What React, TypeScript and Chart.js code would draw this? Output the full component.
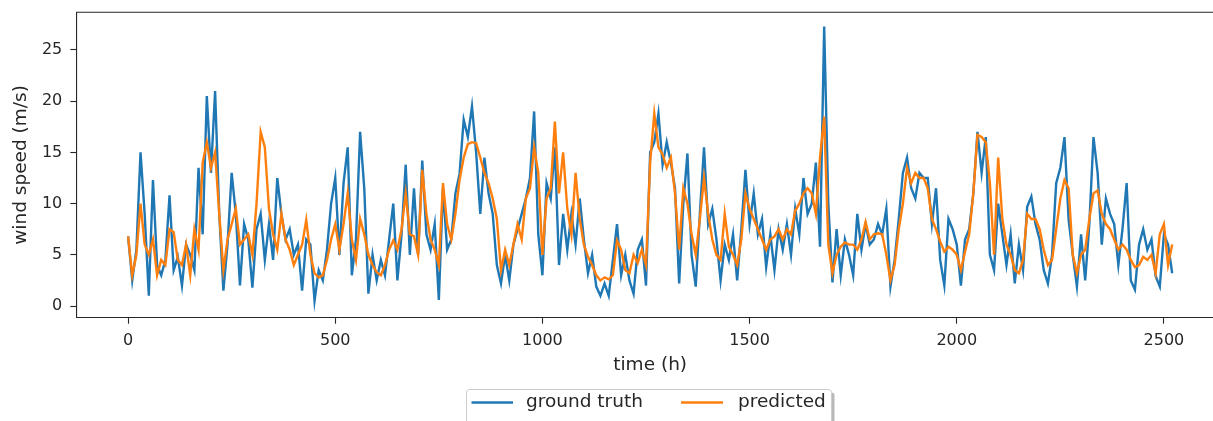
import React, { useEffect, useRef } from "react";
import { Chart, registerables } from "chart.js";

Chart.register(...registerables);

// time axis (hours), sampled every 10 h
const HOUR_STEP = 10;
const N_POINTS = 253;
const HOURS: number[] = Array.from({ length: N_POINTS }, (_, i) => i * HOUR_STEP);

const X_TICKS = [0, 500, 1000, 1500, 2000, 2500];
const Y_TICKS = [0, 5, 10, 15, 20, 25];

// ground truth wind speed (m/s)
const GROUND_TRUTH: number[] = [
  6.8, 2.5, 5.5, 15.0, 9.0, 1.0, 12.3, 4.0, 3.0, 4.5,
  10.8, 3.5, 4.8, 2.0, 6.0, 5.0, 3.5, 13.5, 7.0, 20.5,
  13.0, 21.0, 9.0, 1.5, 6.0, 13.0, 9.0, 2.0, 8.0, 6.5,
  1.8, 7.5, 9.0, 4.5, 8.0, 4.5, 12.5, 9.0, 6.5, 7.5,
  5.0, 6.0, 1.5, 6.5, 6.0, 0.5, 3.5, 2.5, 5.5, 10.0,
  12.5, 5.0, 12.0, 15.5, 3.0, 6.5, 17.0, 11.5, 1.2, 5.0,
  2.5, 4.5, 3.0, 6.5, 10.0, 2.5, 7.0, 13.8, 5.0, 11.5,
  5.0, 14.2, 7.0, 5.5, 8.0, 0.6, 11.5, 5.5, 6.5, 11.0,
  12.9, 18.2, 16.5, 19.5, 15.0, 9.0, 14.5, 11.0, 9.0, 4.0,
  2.2, 5.0, 2.5, 6.0, 7.5, 9.0, 10.5, 12.5, 19.0, 7.0,
  3.0, 12.0, 10.5, 15.5, 4.0, 9.0, 5.5, 9.0, 6.0, 10.5,
  6.5, 3.2, 5.0, 1.9, 1.0, 2.2, 1.0, 4.5, 8.0, 3.0,
  5.0, 2.5, 1.2, 5.5, 6.5, 2.0, 15.0, 16.0, 18.8, 13.8,
  16.0, 14.0, 11.5, 2.2, 10.0, 14.9, 5.0, 1.9, 9.0, 15.5,
  8.0, 9.5, 6.5, 2.5, 6.0, 4.5, 7.0, 2.5, 7.5, 13.3,
  8.0, 11.0, 7.0, 8.5, 3.8, 7.0, 3.5, 7.5, 5.5, 8.0,
  5.0, 9.5, 7.0, 12.5, 9.0, 10.0, 14.0, 5.8, 27.3, 10.0,
  2.3, 7.5, 3.0, 6.5, 5.0, 3.0, 9.0, 5.5, 8.0, 6.0,
  6.5, 8.0, 7.0, 9.5, 1.9, 4.5, 8.5, 13.0, 14.5, 11.5,
  10.5, 13.0, 12.5, 12.5, 8.0, 11.5, 4.5, 2.0, 8.5, 7.5,
  6.0, 2.0, 6.5, 7.5, 11.0, 17.0, 13.0, 16.5, 5.0, 3.5,
  10.0, 7.0, 4.0, 7.0, 2.2, 6.0, 3.5, 9.7, 10.7, 8.0,
  6.5, 3.5, 2.2, 5.0, 12.0, 13.5, 16.5, 8.4, 5.0, 1.9,
  7.0, 2.5, 8.0, 16.5, 13.0, 6.0, 10.5, 9.0, 8.0, 4.0,
  7.5, 12.0, 2.5, 1.6, 6.0, 7.5, 5.5, 6.5, 2.9, 1.9,
  7.0, 6.0, 3.2,
];

// predicted wind speed (m/s)
const PREDICTED: number[] = [
  6.8, 3.0, 5.0, 10.0, 6.0, 5.0, 6.5, 3.0, 4.5, 4.0,
  7.5, 7.2, 4.5, 4.0, 6.0, 3.0, 7.5, 5.5, 14.0, 16.0,
  13.5, 15.0, 9.0, 3.5, 6.5, 8.0, 9.5, 6.0, 6.5, 7.0,
  5.0, 10.0, 17.0, 15.5, 9.5, 7.0, 5.5, 9.0, 6.5, 5.5,
  4.0, 5.0, 6.0, 8.4, 5.0, 3.2, 2.8, 3.0, 4.5, 6.5,
  8.0, 5.5, 8.0, 11.0, 6.5, 4.5, 8.5, 7.0, 5.0, 4.0,
  3.3, 3.0, 4.0, 5.5, 6.4, 5.5, 7.5, 11.0, 7.0, 6.8,
  5.0, 13.3, 9.0, 6.5, 5.5, 4.0, 12.0, 8.0, 6.5, 9.0,
  12.3, 14.5, 15.8, 16.0, 15.9, 14.5, 13.0, 12.0, 10.5, 8.5,
  3.5, 5.5, 4.0, 6.0, 8.0, 6.5, 10.5, 11.5, 15.5, 13.0,
  5.0, 10.5, 11.5, 18.0, 11.0, 15.0, 9.5, 7.0, 13.0, 8.5,
  6.0, 4.8, 4.0, 3.0, 2.5, 2.8, 2.6, 3.0, 6.4, 5.5,
  3.5, 3.2, 5.0, 4.2, 5.5, 4.0, 14.0, 18.8, 15.5, 14.8,
  13.5, 14.5, 11.0, 5.5, 11.5, 10.0, 7.0, 5.0, 8.5, 12.5,
  9.0, 6.5, 5.0, 4.5, 9.0, 5.8, 5.0, 4.0, 6.5, 11.0,
  9.5, 8.5, 7.5, 6.5, 5.5, 6.5, 6.8, 7.5, 6.5, 7.5,
  7.0, 9.3, 10.0, 11.0, 11.5, 11.0, 9.0, 14.5, 18.5, 6.0,
  3.2, 5.0, 5.8, 6.2, 6.0, 6.0, 5.5, 6.5, 8.2, 6.5,
  7.0, 7.1, 7.0, 5.0, 2.5, 4.0, 7.5, 10.0, 13.5, 12.0,
  13.0, 12.5, 12.5, 11.5, 8.5, 7.5, 6.3, 5.3, 5.8, 5.5,
  5.0, 3.5, 5.3, 7.0, 11.0, 16.7, 16.5, 16.0, 12.0, 5.0,
  14.5, 8.5, 6.0, 5.0, 3.5, 3.2, 4.5, 9.0, 8.5, 8.5,
  7.5, 5.5, 4.0, 4.5, 7.5, 10.5, 12.3, 11.5, 5.0, 3.2,
  5.0, 5.5, 8.5, 11.0, 11.3, 9.0, 8.0, 7.5, 6.5, 5.5,
  6.0, 5.5, 4.5, 3.8, 4.0, 4.8, 4.5, 5.0, 3.2, 7.0,
  8.0, 4.0, 6.0,
];

const SERIES_LABELS = ["ground truth", "predicted"];
const COLORS = ["#1f77b4", "#ff7f0e"];

const FONT = "'DejaVu Sans', sans-serif";
const TEXT_COLOR = "#262626";
const AXIS_COLOR = "#262626";
const TICK_SIZE = 16;
const LABEL_SIZE = 18.5;

const framePlugin = {
  id: "frame",
  afterDatasetsDraw(chart: any) {
    const { ctx, chartArea } = chart;
    ctx.save();
    ctx.strokeStyle = AXIS_COLOR;
    ctx.lineWidth = 1.1;
    ctx.beginPath();
    ctx.moveTo(chartArea.left, chartArea.top);
    ctx.lineTo(chartArea.right, chartArea.top);
    ctx.lineTo(chartArea.right, chartArea.bottom);
    ctx.stroke();
    ctx.restore();
  },
};

const legendPlugin = {
  id: "mplLegend",
  afterDraw(chart: any) {
    const ctx = chart.ctx;
    const x = 466.5, y = 389.5, w = 365, h = 60;
    ctx.save();
    ctx.fillStyle = "rgba(128,128,128,0.55)";
    ctx.beginPath();
    (ctx as any).roundRect(x + 3, y + 3, w, h, 3);
    ctx.fill();
    ctx.fillStyle = "#ffffff";
    ctx.strokeStyle = "#cccccc";
    ctx.lineWidth = 1;
    ctx.beginPath();
    (ctx as any).roundRect(x, y, w, h, 3);
    ctx.fill();
    ctx.stroke();
    const cy = 402.5;
    const items = [
      { x1: 471.5, x2: 513, tx: 526 },
      { x1: 681, x2: 723, tx: 738 },
    ];
    items.forEach((it, i) => {
      ctx.strokeStyle = COLORS[i];
      ctx.lineWidth = 2.4;
      ctx.beginPath();
      ctx.moveTo(it.x1, cy);
      ctx.lineTo(it.x2, cy);
      ctx.stroke();
      ctx.fillStyle = TEXT_COLOR;
      ctx.font = `${LABEL_SIZE}px ${FONT}`;
      ctx.textBaseline = "middle";
      ctx.textAlign = "left";
      ctx.fillText(SERIES_LABELS[i], it.tx, cy);
    });
    ctx.restore();
  },
};

const plainNumber = (v: any) => String(v);

export default function App() {
  const ref = useRef<HTMLCanvasElement | null>(null);

  useEffect(() => {
    if (!ref.current) return;
    const chart = new Chart(ref.current, {
      type: "line",
      data: {
        datasets: [
          {
            label: SERIES_LABELS[0],
            data: HOURS.map((hh, i) => ({ x: hh, y: GROUND_TRUTH[i] })),
            borderColor: COLORS[0],
            borderWidth: 2.4,
            pointRadius: 0,
            tension: 0,
            fill: false,
            order: 1,
          },
          {
            label: SERIES_LABELS[1],
            data: HOURS.map((hh, i) => ({ x: hh, y: PREDICTED[i] })),
            borderColor: COLORS[1],
            borderWidth: 2.4,
            pointRadius: 0,
            tension: 0,
            fill: false,
            order: 0,
          },
        ],
      },
      options: {
        animation: false,
        responsive: false,
        devicePixelRatio: 1,
        layout: { padding: { left: 0, top: 12.3, right: 16, bottom: 41 } },
        plugins: {
          legend: { display: false },
          tooltip: { enabled: false },
        },
        scales: {
          x: {
            type: "linear",
            min: -125,
            max: 2645,
            afterBuildTicks: (axis: any) => {
              axis.ticks = X_TICKS.map((v) => ({ value: v }));
            },
            afterFit: (axis: any) => {
              axis.height = 62.3;
              axis.paddingLeft = 0;
              axis.paddingRight = 0;
            },
            grid: {
              drawOnChartArea: false,
              drawTicks: true,
              tickLength: 6,
              tickColor: AXIS_COLOR,
              tickWidth: 1.1,
            },
            border: { display: true, color: AXIS_COLOR, width: 1.1 },
            ticks: {
              color: TEXT_COLOR,
              font: { family: FONT, size: TICK_SIZE },
              padding: 8,
              maxRotation: 0,
              autoSkip: false,
              callback: plainNumber,
            },
            title: {
              display: true,
              text: "time (h)",
              color: TEXT_COLOR,
              font: { family: FONT, size: LABEL_SIZE },
              padding: { top: 0, bottom: 4 },
            },
          },
          y: {
            type: "linear",
            min: -1.14,
            max: 28.68,
            afterBuildTicks: (axis: any) => {
              axis.ticks = Y_TICKS.map((v) => ({ value: v }));
            },
            afterFit: (axis: any) => {
              axis.width = 76.3;
              axis.paddingTop = 0;
              axis.paddingBottom = 0;
            },
            grid: {
              drawOnChartArea: false,
              drawTicks: true,
              tickLength: 6,
              tickColor: AXIS_COLOR,
              tickWidth: 1.1,
            },
            border: { display: true, color: AXIS_COLOR, width: 1.1 },
            ticks: {
              color: TEXT_COLOR,
              font: { family: FONT, size: TICK_SIZE },
              padding: 8,
              autoSkip: false,
              callback: plainNumber,
            },
            title: {
              display: true,
              text: "wind speed (m/s)",
              color: TEXT_COLOR,
              font: { family: FONT, size: LABEL_SIZE },
              padding: { top: 10, bottom: 0 },
            },
          },
        },
      },
      plugins: [framePlugin, legendPlugin],
    });
    return () => chart.destroy();
  }, []);

  return (
    <div
      style={{
        position: "fixed",
        left: 0,
        top: 0,
        width: 1213,
        height: 421,
        overflow: "hidden",
        background: "#fff",
      }}
    >
      <canvas ref={ref} width={1240} height={421} style={{ display: "block" }} />
    </div>
  );
}
